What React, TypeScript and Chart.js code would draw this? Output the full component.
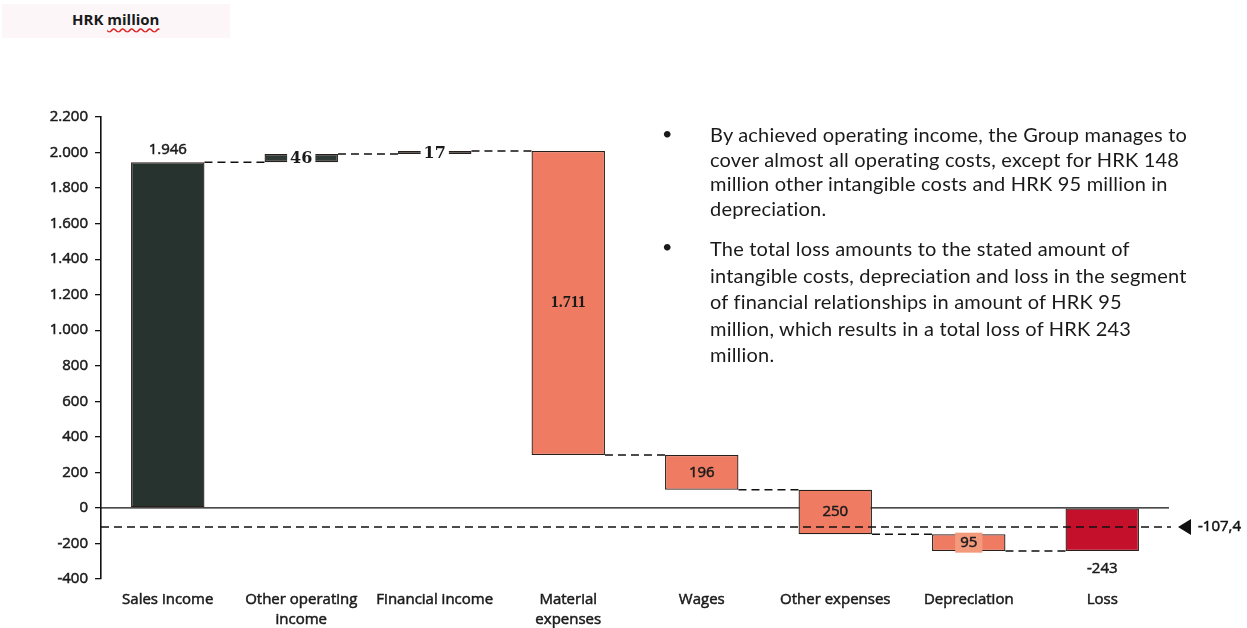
import React, { useEffect, useRef } from "react";
import { Chart, registerables } from "chart.js";

Chart.register(...registerables);

const categories: string[][] = [
  ["Sales income"],
  ["Other operating", "income"],
  ["Financial income"],
  ["Material", "expenses"],
  ["Wages"],
  ["Other expenses"],
  ["Depreciation"],
  ["Loss"],
];
const values = [1946, 46, 17, -1711, -196, -250, -95, -243];
const isTotal = [true, false, false, false, false, false, false, true];
const valueLabels = ["1.946", "46", "17", "1.711", "196", "250", "95", "-243"];
const barColors = ["#27332f", "#2f3a36", "#2f3a36", "#ef7c62", "#ef7c62", "#ef7c62", "#ef7c62", "#c5102c"];
const breakEvenValue = -107.4;
const breakEvenLabel = "-107,4";
const yMin = -400;
const yMax = 2200;
const yStep = 200;

const bullet1 = [
  "By achieved operating income, the Group manages to",
  "cover almost all operating costs, except for HRK 148",
  "million other intangible costs and HRK 95 million in",
  "depreciation.",
];
const bullet2 = [
  "The total loss amounts to the stated amount of",
  "intangible costs, depreciation and loss in the segment",
  "of financial relationships in amount of HRK 95",
  "million, which results in a total loss of HRK 243",
  "million.",
];

function buildRanges(): [number, number][] {
  const out: [number, number][] = [];
  let run = 0;
  values.forEach((v, i) => {
    if (isTotal[i]) {
      out.push([0, v]);
      run = v;
    } else {
      out.push([run, run + v]);
      run = run + v;
    }
  });
  return out;
}

function fmt(v: number): string {
  const s = Math.abs(v).toString();
  const withDots = s.replace(/\B(?=(\d{3})+(?!\d))/g, ".");
  return (v < 0 ? "-" : "") + withDots;
}

const FONT = "'Open Sans', Lato, sans-serif";
const TFONT = "Lato, 'Open Sans', sans-serif";

export default function App() {
  const ref = useRef<HTMLCanvasElement | null>(null);

  useEffect(() => {
    if (!ref.current) return;
    const ranges = buildRanges();

    const drawBoldText = (ctx: any, txt: string, x: number, y: number) => {
      ctx.lineWidth = 0.5;
      ctx.strokeStyle = ctx.fillStyle;
      ctx.strokeText(txt, x, y);
      ctx.fillText(txt, x, y);
    };

    const overlay = {
      id: "waterfallOverlay",
      beforeDatasetsDraw(chart: any) {
        const { ctx, chartArea } = chart;
        const ys = chart.scales.y;
        const y0 = ys.getPixelForValue(0);
        ctx.save();
        ctx.strokeStyle = "#111";
        ctx.lineWidth = 1.4;
        ctx.beginPath();
        ctx.moveTo(chartArea.left, y0);
        ctx.lineTo(chartArea.right, y0);
        ctx.stroke();
        ctx.restore();
      },
      afterDatasetsDraw(chart: any) {
        const { ctx, chartArea } = chart;
        const ys = chart.scales.y;
        const meta = chart.getDatasetMeta(0);
        ctx.save();
        // connectors
        ctx.strokeStyle = "#111";
        ctx.lineWidth = 1.5;
        ctx.setLineDash([8, 5]);
        for (let i = 0; i < ranges.length - 1; i++) {
          const a = meta.data[i];
          const b = meta.data[i + 1];
          const endVal = ranges[i][1];
          const y = ys.getPixelForValue(endVal);
          ctx.beginPath();
          ctx.moveTo(a.x + a.width / 2, y);
          ctx.lineTo(b.x - b.width / 2, y);
          ctx.stroke();
        }
        // break-even dashed line
        const yb = ys.getPixelForValue(breakEvenValue);
        ctx.beginPath();
        ctx.moveTo(chartArea.left, yb);
        ctx.lineTo(chartArea.right + 2, yb);
        ctx.stroke();
        ctx.setLineDash([]);
        // arrow
        const ax = chartArea.right + 9;
        ctx.fillStyle = "#111";
        ctx.beginPath();
        ctx.moveTo(ax, yb);
        ctx.lineTo(ax + 13, yb - 8);
        ctx.lineTo(ax + 13, yb + 8);
        ctx.closePath();
        ctx.fill();
        ctx.font = `15px ${FONT}`;
        ctx.textAlign = "left";
        ctx.textBaseline = "middle";
        drawBoldText(ctx, breakEvenLabel, ax + 20, yb);

        // labels
        meta.data.forEach((el: any, i: number) => {
          const top = Math.min(el.y, el.base);
          const bottom = Math.max(el.y, el.base);
          const cx = el.x;
          const cy = (top + bottom) / 2;
          const txt = valueLabels[i];
          ctx.textAlign = "center";
          ctx.textBaseline = "middle";
          ctx.fillStyle = "#1a1a1a";
          if (i === 0) {
            ctx.font = `15px ${FONT}`;
            drawBoldText(ctx, txt, cx, top - 12);
          } else if (i === 1 || i === 2) {
            ctx.font = `bold 16px 'DejaVu Serif', serif`;
            const w = ctx.measureText(txt).width + 6;
            ctx.fillStyle = "#ffffff";
            ctx.fillRect(cx - w / 2, cy - 10, w, 20);
            ctx.fillStyle = "#1a1a1a";
            ctx.fillText(txt, cx, cy + 1);
          } else if (i === 3) {
            ctx.font = `bold 16px 'Liberation Serif', serif`;
            ctx.fillText(txt, cx, cy);
          } else if (i === 6) {
            ctx.font = `15px ${FONT}`;
            const w = ctx.measureText(txt).width + 10;
            ctx.fillStyle = "#f39a7c";
            ctx.fillRect(cx - w / 2, cy - 10, w, 20);
            ctx.fillStyle = "#1a1a1a";
            drawBoldText(ctx, txt, cx, cy);
          } else if (i === 7) {
            ctx.font = `15px ${FONT}`;
            drawBoldText(ctx, txt, cx, bottom + 18);
          } else {
            ctx.font = `15px ${FONT}`;
            drawBoldText(ctx, txt, cx, cy);
          }
        });
        ctx.restore();
      },
    };

    const chart = new Chart(ref.current, {
      type: "bar",
      data: {
        labels: categories as any,
        datasets: [
          {
            data: ranges as any,
            backgroundColor: barColors,
            borderColor: "#2a1e1a",
            borderWidth: 1.3,
            borderSkipped: false,
            barPercentage: 0.55,
            categoryPercentage: 1,
          },
        ],
      },
      options: {
        responsive: false,
        maintainAspectRatio: false,
        animation: false,
        layout: { padding: { top: 117, right: 78, bottom: 0, left: 0 } },
        plugins: { legend: { display: false }, tooltip: { enabled: false } },
        scales: {
          x: {
            grid: { display: false },
            border: { display: false },
            ticks: {
              color: "#1a1a1a",
              font: { family: FONT, size: 15, lineHeight: 1.32 },
              textStrokeColor: "#1a1a1a",
              textStrokeWidth: 0.5,
              padding: 3,
              maxRotation: 0,
              autoSkip: false,
            } as any,
            afterFit(scale: any) {
              scale.height = 49;
            },
          },
          y: {
            min: yMin,
            max: yMax,
            grid: {
              drawOnChartArea: false,
              drawTicks: true,
              tickLength: 6,
              color: "#111",
              lineWidth: 1.3,
            },
            border: { display: true, color: "#111", width: 1.6 },
            ticks: {
              stepSize: yStep,
              color: "#1a1a1a",
              textStrokeColor: "#1a1a1a",
              textStrokeWidth: 0.5,
              padding: 7,
              font: { family: FONT, size: 15 },
              callback: (v: any) => fmt(Number(v)),
            } as any,
            afterFit(scale: any) {
              scale.width = 101;
            },
          },
        },
      },
      plugins: [overlay],
    });
    return () => chart.destroy();
  }, []);

  const textStyle: React.CSSProperties = {
    position: "absolute",
    left: 710,
    fontFamily: TFONT,
    fontSize: 20,
    letterSpacing: 0.2,
    color: "#1a1a1a",
    whiteSpace: "nowrap",
  };
  const dotStyle: React.CSSProperties = {
    position: "absolute",
    left: 662,
    fontFamily: TFONT,
    fontSize: 18,
    color: "#1a1a1a",
  };

  return (
    <div style={{ position: "fixed", left: 0, top: 0, width: 1247, height: 628, background: "#fff", overflow: "hidden" }}>
      <canvas ref={ref} width={1247} height={628} style={{ position: "absolute", left: 0, top: 0 }} />
      <div style={{ position: "absolute", left: 2, top: 4, width: 228, height: 34, background: "#fcf6f9" }} />
      <div
        style={{
          position: "absolute",
          left: 72,
          top: 9,
          fontFamily: FONT,
          fontSize: 15,
          fontWeight: 700,
          color: "#1a1a1a",
        }}
      >
        HRK{" "}
        <span style={{ textDecoration: "underline wavy #d22", textUnderlineOffset: 2 }}>million</span>
      </div>
      <div style={{ ...dotStyle, top: 122 }}>•</div>
      <div style={{ ...textStyle, top: 122, lineHeight: "24.5px" }}>
        {bullet1.map((l, i) => (
          <div key={i}>{l}</div>
        ))}
      </div>
      <div style={{ ...dotStyle, top: 235 }}>•</div>
      <div style={{ ...textStyle, top: 235, lineHeight: "26.5px" }}>
        {bullet2.map((l, i) => (
          <div key={i}>{l}</div>
        ))}
      </div>
    </div>
  );
}
